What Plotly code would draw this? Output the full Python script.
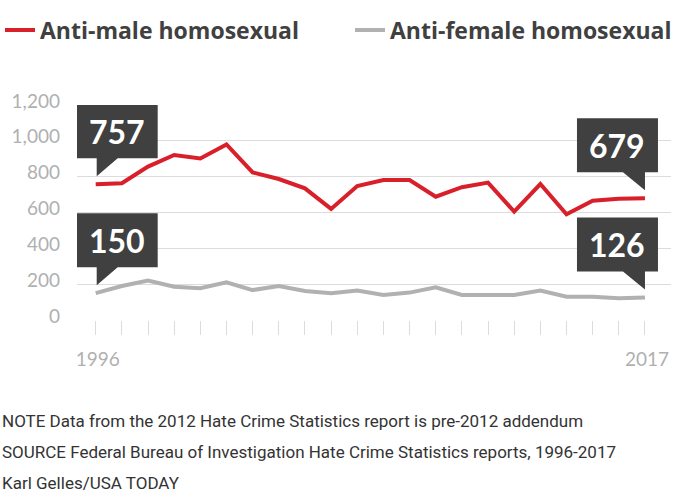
import plotly.graph_objects as go

years = list(range(1996, 2018))
anti_male = [757, 763, 856, 921, 902, 980, 824, 787, 735, 620, 748, 781,
             781, 688, 741, 767, 605, 759, 590, 666, 677, 679]
anti_female = [150, 190, 220, 186, 177, 210, 167, 190, 162, 149, 164, 140,
               153, 182, 140, 140, 140, 164, 130, 130, 121, 126]
series_names = ["Anti-male homosexual", "Anti-female homosexual"]
y_ticks = [0, 200, 400, 600, 800, 1000, 1200]
x_tick_labels = {1996: "1996", 2017: "2017"}
notes = [
    "NOTE Data from the 2012 Hate Crime Statistics report is pre-2012 addendum",
    "SOURCE Federal Bureau of Investigation Hate Crime Statistics reports, 1996-2017",
    "Karl Gelles/USA TODAY",
]

W, H = 700, 504
ML, MR, MT, MB = 77, 29, 105, 184
RED = "#d81f2a"
GRAY = "#b1b1b1"
BOX = "#404040"
GRID = "#dcdcdc"
LABEL = "#b0b0b0"

fig = go.Figure()
fig.add_trace(go.Scatter(x=years, y=anti_male, mode="lines", name=series_names[0],
                         line=dict(color=RED, width=4), legend="legend"))
fig.add_trace(go.Scatter(x=years, y=anti_female, mode="lines", name=series_names[1],
                         line=dict(color=GRAY, width=4), legend="legend2"))

# callout boxes at first and last points
def callout(x, y, side):
    if side == "left":
        path = "M -19,26 L 1,26 L 1,8 L 22,26 L 62,26 L 62,80 L -19,80 Z"
        tx = 21.5
    else:
        path = "M 13,26 L 0,26 L 0,8 L -22,26 L -68,26 L -68,80 L 13,80 Z"
        tx = -27.5
    fig.add_shape(type="path", xref="x", yref="y", xsizemode="pixel", ysizemode="pixel",
                  xanchor=x, yanchor=y, path=path, fillcolor=BOX, line=dict(width=0),
                  layer="above")
    fig.add_annotation(x=x, y=y, xref="x", yref="y", text=str(y), showarrow=False,
                       xshift=tx, yshift=53, xanchor="center", yanchor="middle",
                       font=dict(family="Lato", size=32, color="white", weight="bold"))

for s in (anti_male, anti_female):
    callout(years[0], s[0], "left")
    callout(years[-1], s[-1], "right")

plot_h = H - MT - MB
plot_w = W - ML - MR
for i, t in enumerate(notes):
    ypix = 421 + 31 * i
    fig.add_annotation(xref="paper", yref="paper", x=-ML / plot_w,
                       y=(H - MB - ypix) / plot_h, text=t, showarrow=False,
                       xanchor="left", yanchor="middle",
                       font=dict(family="Roboto", size=17, color="#333333"))

legend_font = dict(family="Open Sans", size=23, color="#404040", weight="bold")
fig.update_layout(
    width=W, height=H,
    margin=dict(l=ML, r=MR, t=MT, b=MB, autoexpand=False),
    paper_bgcolor="white", plot_bgcolor="white",
    showlegend=True,
    legend=dict(orientation="h", xref="container", yref="container", x=-2 / W, y=1 - 30 / H,
                xanchor="left", yanchor="middle", bgcolor="rgba(0,0,0,0)", font=legend_font),
    legend2=dict(orientation="h", xref="container", yref="container", x=350 / W, y=1 - 30 / H,
                 xanchor="left", yanchor="middle", bgcolor="rgba(0,0,0,0)", font=legend_font),
    xaxis=dict(range=[1995.285, 2017.995], tickvals=years,
               ticktext=[x_tick_labels.get(y, "") for y in years],
               ticks="outside", ticklen=14, tickcolor=GRID, tickwidth=1,
               showgrid=False, zeroline=False, showline=False,
               ticklabelstandoff=8, ticklabelshift=2,
               tickfont=dict(family="Lato", size=19, color=LABEL)),
    yaxis=dict(range=[0, 1200], tickvals=y_ticks, tickformat=",",
               showgrid=True, gridcolor=GRID, gridwidth=1.3, zeroline=False,
               showline=False, ticks="", ticklabelstandoff=16, ticklabelshift=-4,
               tickfont=dict(family="Lato", size=19, color=LABEL)),
)

fig.write_html("out.html", config={"displayModeBar": False},
               post_script="document.body.style.margin='0px';")
